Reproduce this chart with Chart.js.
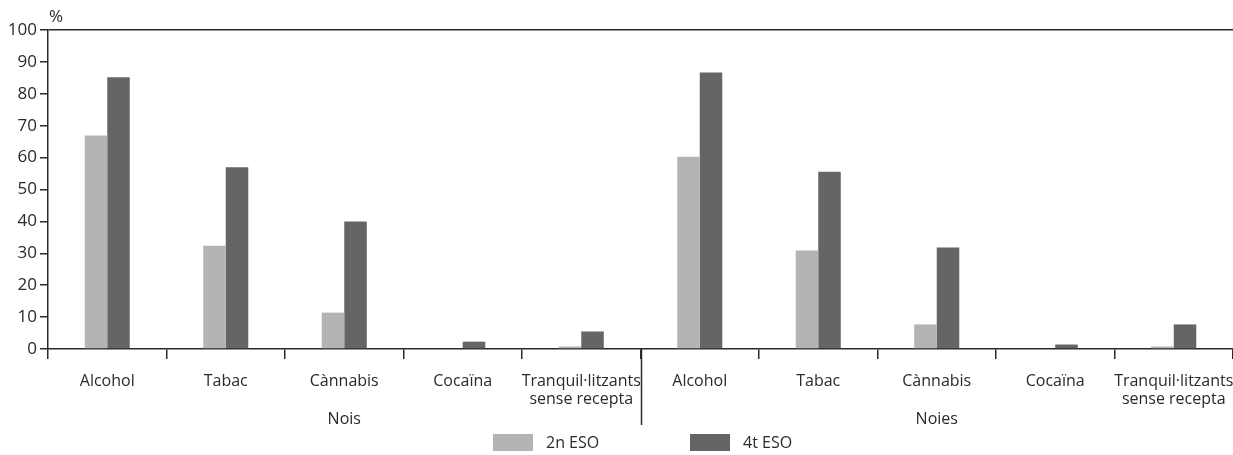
<!DOCTYPE html>
<html>
<head>
<meta charset="utf-8">
<script src="https://cdn.jsdelivr.net/npm/chart.js@4.4.1/dist/chart.umd.min.js"></script>
<style>
html,body{margin:0;padding:0;background:#fff;}
#wrap{width:1233px;height:455px;position:relative;}
</style>
</head>
<body>
<div id="wrap"><canvas id="c" width="1233" height="455"></canvas></div>
<script>
const categories = [
  'Alcohol', 'Tabac', 'Cànnabis', 'Cocaïna', ['Tranquil·litzants', 'sense recepta'],
  'Alcohol', 'Tabac', 'Cànnabis', 'Cocaïna', ['Tranquil·litzants', 'sense recepta']
];
const groups = ['Nois', 'Noies'];
const groupSize = 5;
const seriesNames = ['2n ESO', '4t ESO'];
const eso2 = [66.9, 32.4, 11.4, 0.0, 0.8, 60.3, 30.9, 7.7, 0.0, 0.8];
const eso4 = [85.2, 57.0, 40.0, 2.3, 5.5, 86.7, 55.6, 31.8, 1.4, 7.7];
const yTicks = [0, 10, 20, 30, 40, 50, 60, 70, 80, 90, 100];

const LIGHT = '#b3b4b6';
const DARK = '#646567';
const AXIS = '#2a2a2a';
const TEXT = '#2a2a2a';
const FONT = "'Open Sans', 'Noto Sans', sans-serif";

const extras = {
  id: 'extras',
  afterDraw(chart) {
    const ctx = chart.ctx;
    const x = chart.scales.x;
    const area = chart.chartArea;
    ctx.save();
    ctx.fillStyle = TEXT;
    ctx.font = "17px " + FONT;
    ctx.textAlign = 'left';
    ctx.textBaseline = 'alphabetic';
    ctx.fillText('%', area.left + 1, 22);
    const half = (x.getPixelForValue(1) - x.getPixelForValue(0)) / 2;
    ctx.strokeStyle = AXIS;
    ctx.lineWidth = 1.5;
    for (let g = 1; g < groups.length; g++) {
      const bx = Math.round(x.getPixelForValue(g * groupSize) - half) + 0.5;
      ctx.beginPath();
      ctx.moveTo(bx, area.bottom);
      ctx.lineTo(bx, 425);
      ctx.stroke();
    }
    ctx.textAlign = 'center';
    ctx.textBaseline = 'middle';
    ctx.font = "16px " + FONT;
    groups.forEach((gname, g) => {
      const x0 = x.getPixelForValue(g * groupSize);
      const x1 = x.getPixelForValue(g * groupSize + groupSize - 1);
      ctx.fillText(gname, (x0 + x1) / 2, 419);
    });
    const colors = [LIGHT, DARK];
    const starts = [493, 690];
    seriesNames.forEach((name, i) => {
      ctx.fillStyle = colors[i];
      ctx.fillRect(starts[i], 434, 40, 17);
      ctx.fillStyle = TEXT;
      ctx.textAlign = 'left';
      ctx.fillText(name, starts[i] + 53, 443);
    });
    ctx.restore();
  }
};

new Chart(document.getElementById('c'), {
  type: 'bar',
  data: {
    labels: categories,
    datasets: [
      { label: seriesNames[0], data: eso2, backgroundColor: LIGHT, borderWidth: 0, barPercentage: 1, categoryPercentage: 0.38 },
      { label: seriesNames[1], data: eso4, backgroundColor: DARK, borderWidth: 0, barPercentage: 1, categoryPercentage: 0.38 }
    ]
  },
  options: {
    responsive: false,
    animation: false,
    devicePixelRatio: 1,
    layout: { padding: { top: 30, right: 0, bottom: 0, left: 0 } },
    plugins: { legend: { display: false }, tooltip: { enabled: false } },
    scales: {
      x: {
        offset: true,
        afterFit(s) { s.height = 106; s.paddingLeft = 0; s.paddingRight = 0; },
        grid: { display: true, offset: true, drawOnChartArea: false, drawTicks: true, tickLength: 10, color: AXIS, tickColor: AXIS, lineWidth: 1.5 },
        border: { display: true, color: AXIS, width: 1.5 },
        ticks: { color: TEXT, font: { family: FONT, size: 16, lineHeight: 1.15 }, maxRotation: 0, minRotation: 0, autoSkip: false, padding: 13 }
      },
      y: {
        min: 0, max: 100,
        afterFit(s) { s.width = 48; },
        afterBuildTicks(s) { s.ticks = yTicks.map(v => ({ value: v })); },
        grid: {
          drawTicks: true, tickLength: 8,
          color: c => (c.tick && c.tick.value === 100) ? AXIS : 'rgba(0,0,0,0)',
          tickColor: AXIS, lineWidth: 1.5
        },
        border: { display: true, color: AXIS, width: 1.5 },
        ticks: { color: TEXT, font: { family: FONT, size: 17 }, padding: 3 }
      }
    }
  },
  plugins: [extras]
});
</script>
</body>
</html>
